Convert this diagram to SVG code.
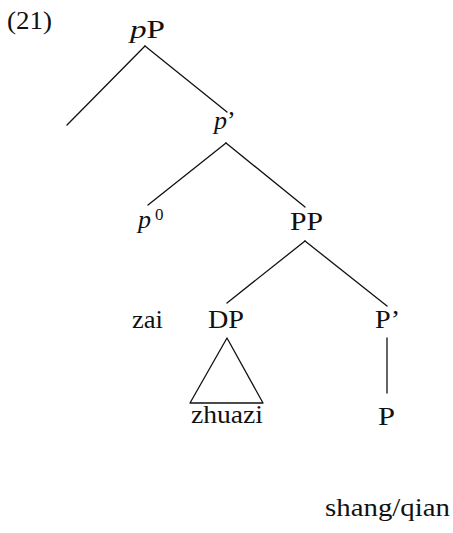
<svg xmlns="http://www.w3.org/2000/svg" width="453" height="533" viewBox="0 0 453 533">
  <style>
    .lbl { font-family: "Liberation Serif", "Times New Roman", serif; font-size: 26px; fill: #111; }
    .it { font-style: italic; }
    .sup { font-size: 17px; }
    .edge { stroke: #111; stroke-width: 1.3; fill: none; stroke-linecap: round; stroke-linejoin: round; }
  </style>
  <rect width="453" height="533" fill="#ffffff"/>

  <text class="lbl" x="7" y="29" textLength="45" lengthAdjust="spacingAndGlyphs">(21)</text>

  <g id="connectors">
    <line class="edge" x1="145" y1="46" x2="67" y2="125"/>
    <line class="edge" x1="145" y1="46" x2="227" y2="112"/>
    <line class="edge" x1="226" y1="143" x2="148" y2="205"/>
    <line class="edge" x1="226" y1="143" x2="305" y2="207"/>
    <line class="edge" x1="305" y1="241" x2="227" y2="303"/>
    <line class="edge" x1="305" y1="241" x2="387" y2="306"/>
    <line class="edge" x1="387" y1="338" x2="387" y2="393"/>
    <polygon class="edge" points="227,338 190,403 263,403"/>
  </g>

  <g id="node-pP">
    <text class="lbl" x="130" y="38" textLength="35" lengthAdjust="spacingAndGlyphs"><tspan class="it">p</tspan>P</text>
  </g>
  <g id="node-p-bar">
    <text class="lbl" x="214" y="129" font-size="27"><tspan class="it">p</tspan>’</text>
  </g>
  <g id="node-p0">
    <text class="lbl it" x="138" y="228" font-size="27">p</text>
    <text class="lbl sup" x="155" y="220">0</text>
  </g>
  <g id="node-PP">
    <text class="lbl" x="290" y="230" textLength="33" lengthAdjust="spacingAndGlyphs">PP</text>
  </g>
  <g id="node-zai">
    <text class="lbl" x="132" y="328" textLength="31" lengthAdjust="spacingAndGlyphs">zai</text>
  </g>
  <g id="node-DP">
    <text class="lbl" x="208" y="328" textLength="36" lengthAdjust="spacingAndGlyphs">DP</text>
  </g>
  <g id="node-P-bar">
    <text class="lbl" x="375" y="328" textLength="25" lengthAdjust="spacingAndGlyphs">P’</text>
  </g>
  <g id="node-zhuazi">
    <text class="lbl" x="191" y="423" textLength="72" lengthAdjust="spacingAndGlyphs">zhuazi</text>
  </g>
  <g id="node-P">
    <text class="lbl" x="378" y="425" textLength="17" lengthAdjust="spacingAndGlyphs">P</text>
  </g>
  <g id="node-shang-qian">
    <text class="lbl" x="325" y="516" textLength="125" lengthAdjust="spacingAndGlyphs">shang/qian</text>
  </g>
</svg>
